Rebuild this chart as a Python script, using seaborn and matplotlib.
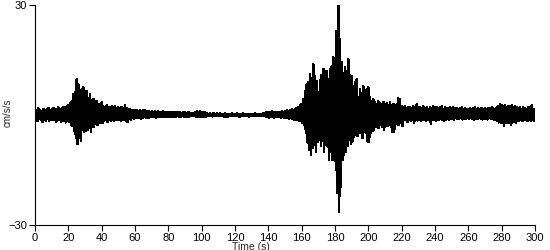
import numpy as np
import pandas as pd
import matplotlib
matplotlib.use("Agg")
import matplotlib.pyplot as plt
import seaborn as sns

# Time in seconds (1 s bins), per-bin upper and lower envelope of acceleration (cm/s/s)
time_s = list(range(0, 301))

upper = [
    1.6, 1.2, 1.8, 1.4, 1.0, 1.7, 1.3, 1.5, 1.9, 1.2,
    1.5, 1.9, 1.3, 1.7, 2.1, 1.4, 1.8, 2.2, 1.6, 2.4,
    2.6, 3.2, 3.7, 5.6, 6.2, 9.7, 8.4, 5.0, 7.0, 7.5,
    5.2, 6.6, 4.6, 5.6, 4.0, 4.4, 3.4, 3.9, 3.0, 2.9,
    3.4, 2.4, 2.0, 2.6, 2.2, 1.8, 2.4, 2.0, 2.3, 1.9,
    2.1, 1.8, 2.2, 1.9, 2.7, 1.8, 1.6, 1.5, 1.3, 1.4,
    1.2, 1.4, 1.1, 1.3, 1.0, 1.2, 1.4, 1.0, 1.1, 0.9,
    1.0, 0.9, 1.1, 0.8, 1.0, 0.9, 0.8, 1.0, 0.7, 0.9,
    0.8, 0.9, 0.7, 0.8, 0.6, 0.9, 0.7, 0.8, 0.6, 0.7,
    0.9, 0.6, 0.8, 0.5, 0.4, 0.5, 0.9, 1.0, 0.8, 1.0,
    0.9, 0.7, 0.8, 0.4, 0.3, 0.4, 0.3, 0.5, 0.3, 0.4,
    0.3, 0.4, 0.3, 0.3, 0.4, 0.3, 0.3, 0.3, 0.4, 0.3,
    0.3, 0.4, 0.3, 0.3, 0.3, 0.4, 0.3, 0.3, 0.3, 0.3,
    0.3, 0.3, 0.4, 0.3, 0.3, 0.3, 0.3, 0.4, 0.5, 0.8,
    0.9, 0.7, 1.0, 0.8, 0.6, 0.9, 0.7, 0.8, 1.0, 0.9,
    1.0, 1.2, 1.1, 1.3, 1.5, 1.4, 1.7, 1.9, 2.2, 2.6,
    3.0, 4.2, 6.5, 8.4, 9.0, 11.1, 10.0, 13.8, 10.5, 9.2,
    6.2, 9.5, 11.0, 12.5, 8.9, 12.0, 9.7, 12.5, 13.3, 15.7,
    12.0, 22.9, 29.7, 20.7, 14.4, 11.5, 13.0, 12.0, 15.2, 11.0,
    10.5, 8.0, 9.0, 9.7, 5.0, 7.0, 6.0, 7.8, 5.5, 7.0,
    7.5, 5.0, 3.7, 4.2, 3.4, 3.0, 3.7, 3.2, 2.9, 3.5,
    3.0, 3.2, 2.8, 3.4, 2.6, 3.0, 2.7, 2.9, 4.5, 4.2,
    2.5, 2.0, 2.3, 1.9, 2.2, 2.0, 1.8, 2.4, 2.0, 2.9,
    2.0, 2.2, 1.8, 2.4, 1.9, 2.1, 1.7, 2.0, 1.8, 2.3,
    1.9, 2.2, 1.8, 2.0, 2.4, 1.7, 2.0, 1.8, 1.9, 2.1,
    1.8, 2.0, 1.7, 1.9, 1.6, 1.8, 2.0, 1.7, 1.9, 1.6,
    1.7, 1.9, 1.6, 1.8, 2.0, 1.7, 1.8, 1.6, 1.9, 1.7,
    1.8, 1.6, 1.9, 1.7, 2.0, 1.8, 1.7, 2.1, 2.4, 2.9,
    2.7, 2.4, 2.6, 2.2, 2.5, 2.3, 2.6, 2.2, 2.4, 2.0,
    1.8, 2.0, 1.7, 2.1, 1.9, 1.6, 2.2, 1.8, 2.6, 1.7, 1.5,
]

lower = [
    -1.3, -1.6, -1.0, -1.4, -1.8, -1.2, -1.5, -1.1, -1.7, -1.3,
    -1.4, -1.2, -1.8, -1.5, -1.3, -1.9, -1.6, -1.4, -2.0, -1.7,
    -2.0, -2.6, -3.0, -4.2, -6.3, -7.8, -6.2, -7.0, -4.0, -4.6,
    -4.4, -4.0, -3.6, -4.5, -3.2, -3.1, -2.4, -2.7, -2.2, -2.1,
    -2.1, -1.6, -1.4, -1.8, -1.2, -1.5, -1.3, -1.6, -1.2, -1.4,
    -1.3, -1.6, -1.2, -1.4, -1.5, -1.8, -1.0, -1.2, -0.9, -1.1,
    -0.8, -0.9, -0.7, -1.0, -0.8, -0.6, -0.9, -0.7, -0.8, -0.6,
    -0.6, -0.5, -0.7, -0.5, -0.6, -0.4, -0.6, -0.5, -0.4, -0.5,
    -0.5, -0.4, -0.5, -0.4, -0.5, -0.3, -0.4, -0.5, -0.3, -0.4,
    -0.5, -0.4, -0.5, -0.3, -0.3, -0.3, -0.6, -0.5, -0.6, -0.5,
    -0.6, -0.4, -0.5, -0.3, -0.3, -0.3, -0.4, -0.3, -0.3, -0.3,
    -0.3, -0.3, -0.3, -0.4, -0.6, -0.5, -0.3, -0.3, -0.3, -0.3,
    -0.3, -0.3, -0.6, -0.3, -0.3, -0.3, -0.3, -0.3, -0.4, -0.3,
    -0.3, -0.3, -0.3, -0.3, -0.3, -0.3, -0.3, -0.3, -0.4, -0.6,
    -0.7, -0.6, -0.5, -0.7, -0.5, -0.6, -0.5, -0.7, -0.6, -0.8,
    -0.8, -0.9, -1.0, -0.9, -1.1, -1.2, -1.3, -1.4, -1.5, -1.7,
    -2.2, -2.6, -5.0, -7.5, -9.5, -10.8, -9.0, -8.2, -10.0, -7.4,
    -6.7, -8.5, -7.0, -10.0, -7.5, -8.6, -12.2, -10.0, -12.2, -11.0,
    -15.0, -21.3, -26.4, -19.5, -12.2, -11.0, -10.0, -8.5, -6.7, -7.8,
    -7.2, -6.0, -5.5, -5.8, -4.8, -5.0, -6.2, -4.5, -5.0, -7.2,
    -7.2, -4.8, -4.3, -4.0, -3.0, -3.4, -3.4, -2.8, -3.2, -4.0,
    -2.6, -3.0, -2.8, -3.1, -4.7, -4.5, -2.4, -2.6, -2.6, -2.1,
    -3.0, -1.4, -1.2, -1.8, -1.3, -1.5, -1.2, -2.1, -1.3, -1.5,
    -1.2, -1.5, -1.3, -1.2, -1.6, -1.2, -1.4, -2.3, -1.2, -1.3,
    -1.6, -1.2, -1.4, -1.1, -1.3, -1.5, -1.2, -1.0, -1.3, -1.1,
    -1.0, -1.2, -0.9, -1.1, -1.0, -0.9, -1.2, -1.0, -1.1, -0.9,
    -1.1, -0.9, -1.0, -1.2, -1.0, -1.1, -0.9, -1.0, -1.2, -1.0,
    -1.0, -1.2, -0.9, -1.1, -1.0, -1.3, -1.2, -1.6, -2.0, -2.2,
    -2.1, -2.9, -2.0, -2.2, -1.9, -2.6, -2.0, -1.8, -2.1, -1.7,
    -1.5, -1.3, -1.6, -1.2, -1.4, -1.7, -1.3, -1.5, -1.4, -1.6, -1.0,
]

x_ticks = list(range(0, 301, 20))
y_ticks = [-30, 30]

# Build a zig-zag trace (max then min within each bin), as a seismogram is drawn
rows = []
for t, u, l in zip(time_s, upper, lower):
    rows.append((t, u))
    if t < time_s[-1]:
        rows.append((t + 0.5, l))
    else:
        rows.append((t, l))
df = pd.DataFrame(rows, columns=["Time (s)", "cm/s/s"])

sns.set_style("ticks")
plt.rcParams["font.family"] = ["Liberation Sans", "DejaVu Sans"]

fig = plt.figure(figsize=(5.5, 2.5), dpi=100)
ax = fig.add_axes([35 / 550, 25 / 250, 500 / 550, 220 / 250])

sns.lineplot(data=df, x="Time (s)", y="cm/s/s", sort=False, estimator=None,
             color="black", linewidth=1.1, antialiased=False, ax=ax)

ax.set_xlim(0, 300)
ax.set_ylim(-30, 30)
ax.set_xticks(x_ticks)
ax.set_yticks(y_ticks)
ax.tick_params(axis="both", direction="out", length=4, width=0.8,
               labelsize=8, pad=1.5, colors="black")
for s in ["left", "bottom"]:
    ax.spines[s].set_color("black")
    ax.spines[s].set_linewidth(0.8)
ax.spines["top"].set_visible(False)
ax.spines["right"].set_visible(False)

ax.set_xlabel("Time (s)", fontsize=7.5)
ax.set_ylabel("cm/s/s", fontsize=7)
ax.xaxis.set_label_coords(0.432, -0.075)
ax.yaxis.set_label_coords(-0.045, 0.51)

fig.savefig("out.png", dpi=100)
